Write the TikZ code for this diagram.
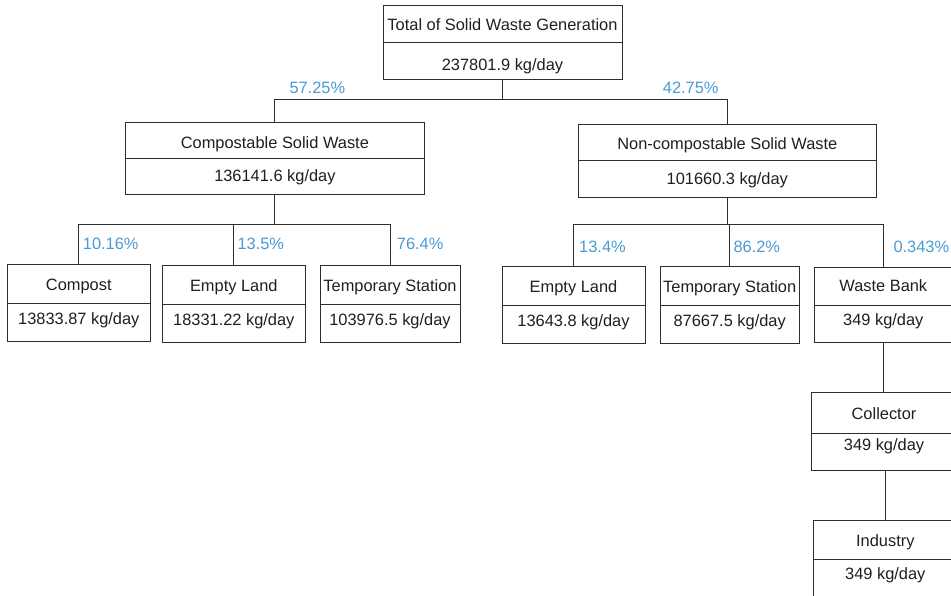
\documentclass[tikz,border=0pt]{standalone}
\usepackage{fontspec}
\setmainfont{Liberation Sans}
\definecolor{pctblue}{RGB}{74,154,212}
\definecolor{edgegray}{RGB}{45,45,45}
\newcommand\capys[2]{\def\tcy{#1}\def\vcy{#2}}
\newcommand\twobox[8]{%
  % #1 name, #2 center x, #3 width, #4 top, #5 divider, #6 bottom, #7 title, #8 value
  \pgfmathsetmacro\tbase{\tcy-(#4+#5)/2+5.8}%
  \pgfmathsetmacro\tht{15+\tbase}\pgfmathsetmacro\tdp{15-\tbase}%
  \pgfmathsetmacro\vbase{\vcy-(#5+#6)/2+5.8}%
  \pgfmathsetmacro\vht{15+\vbase}\pgfmathsetmacro\vdp{15-\vbase}%
  \node[cell, minimum width=#3pt, minimum height={#5pt-#4pt}, text height=\tht pt, text depth=\tdp pt]
    (#1-t) at ({#2},{(#4+#5)/2}) {#7};
  \node[cell, minimum width=#3pt, minimum height={#6pt-#5pt}, text height=\vht pt, text depth=\vdp pt]
    (#1-v) at ({#2},{(#5+#6)/2}) {#8};
}
\begin{document}
\begin{tikzpicture}[x=1pt,y=-1pt,
  cell/.style={draw=edgegray, line width=1pt, rectangle, inner sep=0pt, outer sep=0pt,
    font=\fontsize{16.4}{19}\selectfont, text=black!88},
  pctlabel/.style={text=pctblue, anchor=west, inner sep=0pt, font=\fontsize{16.4}{19}\selectfont},
  link/.style={draw=edgegray, line width=1pt}]
\useasboundingbox (0,0) rectangle (951,595);

\capys{25.0}{64.5}
\twobox{top}{502.5}{239}{5}{42.7}{79}{Total of Solid Waste Generation}{237801.9 kg/day}
\capys{142.2}{175.8}
\twobox{comp}{274.9}{298.3}{122.7}{158.7}{194.3}{Compostable Solid Waste}{136141.6 kg/day}
\capys{143.7}{178.2}
\twobox{ncomp}{727.3}{298}{124}{160.7}{197}{Non-compostable Solid Waste}{101660.3 kg/day}
\capys{284.2}{318.3}
\twobox{cpst}{78.8}{143}{264.3}{303.3}{341}{Compost}{13833.87 kg/day}
\capys{285.3}{319.7}
\twobox{elA}{233.8}{143}{265.7}{304.7}{342.3}{Empty Land}{18331.22 kg/day}
\capys{285.3}{319.7}
\twobox{tsA}{390}{140}{265}{304.3}{342.3}{Temporary Station}{103976.5 kg/day}
\capys{286.2}{320.3}
\twobox{elB}{573.5}{143}{266.7}{305.7}{343.3}{Empty Land}{13643.8 kg/day}
\capys{286.2}{320.3}
\twobox{tsB}{729.7}{139.3}{266}{305.7}{343.3}{Temporary Station}{87667.5 kg/day}
\capys{285.3}{319.7}
\twobox{wb}{883.3}{138}{267.3}{305}{342.3}{Waste Bank}{349 kg/day}
\capys{413.3}{445}
\twobox{coll}{884}{146}{392.7}{433.3}{470}{Collector}{349 kg/day}
\capys{540.8}{573.8}
\twobox{ind}{885.3}{144}{520.3}{559.3}{598}{Industry}{349 kg/day}

\coordinate (busA) at (0,99);
\coordinate (busB) at (0,224.3);
\coordinate (busC) at (0,224.3);

\draw[link] (top-v.south) -- (top-v.south |- busA);
\draw[link] (comp-t.north) -- (comp-t.north |- busA) -- (ncomp-t.north |- busA) -- (ncomp-t.north);

\draw[link] (comp-v.south) -- (comp-v.south |- busB);
\draw[link] (cpst-t.north) -- (cpst-t.north |- busB) -- (tsA-t.north |- busB) -- (tsA-t.north);
\draw[link] (elA-t.north |- busB) -- (elA-t.north);

\draw[link] (ncomp-v.south) -- (ncomp-v.south |- busC);
\draw[link] (elB-t.north) -- (elB-t.north |- busC) -- (wb-t.north |- busC) -- (wb-t.north);
\draw[link] (tsB-t.north |- busC) -- (tsB-t.north);

\draw[link] (wb-v.south) -- (wb-v.south |- coll-t.north);
\draw[link] (ind-t.north |- coll-v.south) -- (ind-t.north);

\node[pctlabel] (pA) at (289.3,88.3) {57.25\%};
\node[pctlabel] (pB) at (662.7,88.3) {42.75\%};
\node[pctlabel] (pC) at (82.7,244.3) {10.16\%};
\node[pctlabel] (pD) at (237.3,244.3) {13.5\%};
\node[pctlabel] (pE) at (396.7,244.3) {76.4\%};
\node[pctlabel] (pF) at (579,246.7) {13.4\%};
\node[pctlabel] (pG) at (733.3,246.7) {86.2\%};
\node[pctlabel] (pH) at (893.3,246.7) {0.343\%};
\end{tikzpicture}
\end{document}
